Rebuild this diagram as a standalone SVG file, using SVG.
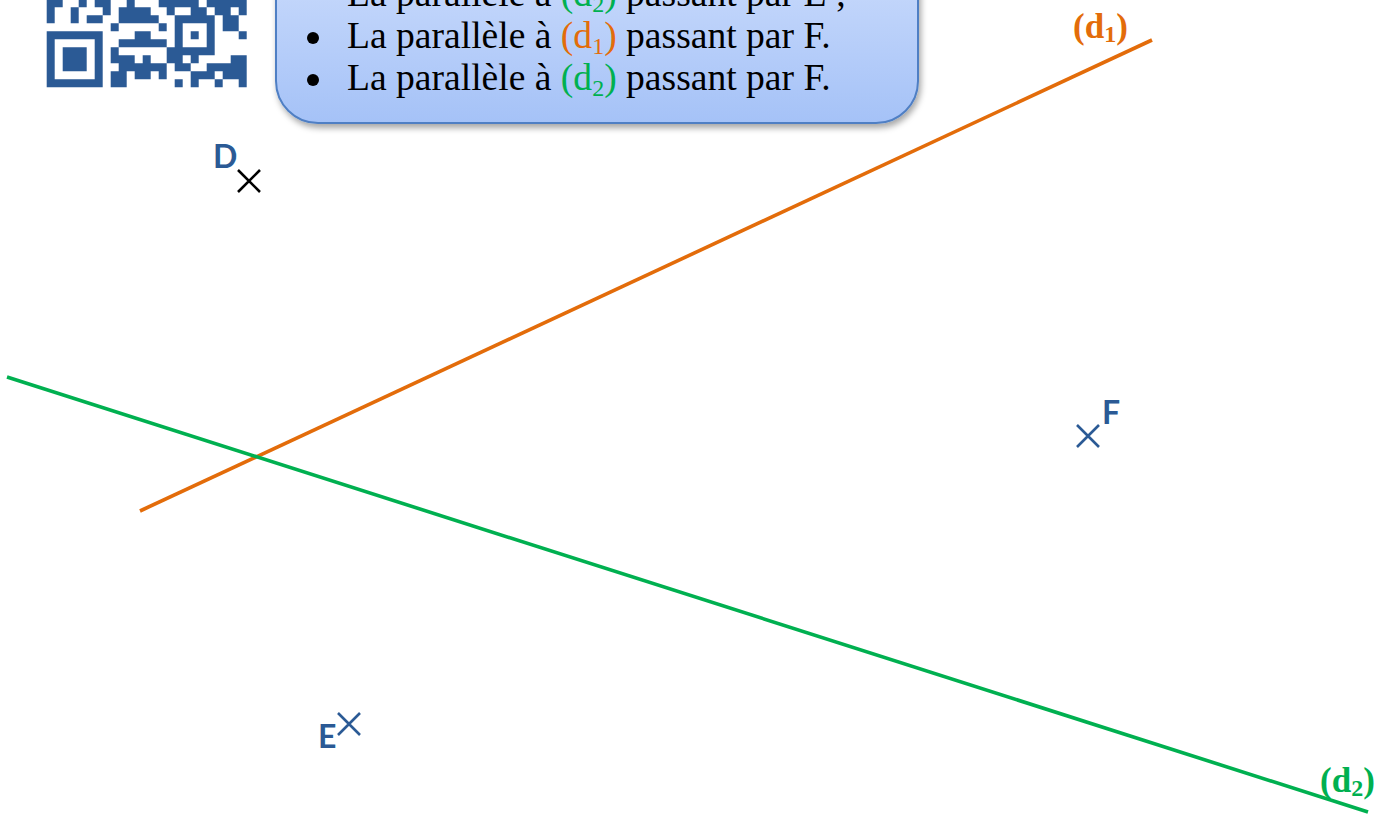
<svg xmlns="http://www.w3.org/2000/svg" width="1391" height="814" viewBox="0 0 1391 814">
<defs>
<linearGradient id="boxGrad" x1="0" y1="0" x2="0" y2="1">
<stop offset="0" stop-color="#d3e1fd"/>
<stop offset="1" stop-color="#a5c2f7"/>
</linearGradient>
<filter id="shadow" x="-10%" y="-10%" width="120%" height="130%">
<feDropShadow dx="2" dy="4" stdDeviation="3" flood-color="#000" flood-opacity="0.35"/>
</filter>
<g id="cross"><path d="M-11,-11 L11,11 M-11,11 L11,-11" fill="none" stroke-width="2.6"/></g>
</defs>
<style>
.txt{font-family:"Liberation Serif","Times New Roman",serif;font-size:37.6px;fill:#000}
.lbl{font-family:"Liberation Serif","Times New Roman",serif;font-size:35px;font-weight:bold}
.pt{font-family:Lato,"Open Sans",sans-serif;font-weight:bold;font-size:32px;fill:#2b5a95}
.sub{font-size:24px}
</style>
<rect width="1391" height="814" fill="#fff"/>

<g id="qr">
<path fill="#2b5a95" d="M46.7,-0.7h16v8h-16zM78.7,-0.7h8v8h-8zM94.7,-0.7h16v8h-16zM126.7,-0.7h8v8h-8zM158.7,-0.7h40v8h-40zM206.7,-0.7h40v8h-40z
M46.7,7.3h8v8h-8zM70.7,7.3h8v8h-8zM102.7,7.3h8v8h-8zM118.7,7.3h32v8h-32zM166.7,7.3h8v8h-8zM190.7,7.3h16v8h-16zM214.7,7.3h16v8h-16zM238.7,7.3h8v8h-8z
M46.7,15.3h8v8h-8zM70.7,15.3h8v8h-8zM86.7,15.3h16v8h-16zM118.7,15.3h40v8h-40zM174.7,15.3h40v8h-40zM222.7,15.3h16v8h-16z
M110.7,23.3h8v8h-8zM158.7,23.3h8v8h-8zM174.7,23.3h8v8h-8zM206.7,23.3h8v8h-8zM222.7,23.3h16v8h-16z
M134.7,31.3h16v8h-16zM174.7,31.3h8v8h-8zM190.7,31.3h8v8h-8zM206.7,31.3h8v8h-8zM238.7,31.3h8v8h-8z
M118.7,39.3h48v8h-48zM174.7,39.3h8v8h-8zM206.7,39.3h8v8h-8z
M110.7,47.3h8v8h-8zM166.7,47.3h48v8h-48z
M110.7,55.3h24v8h-24zM142.7,55.3h8v8h-8zM166.7,55.3h16v8h-16zM190.7,55.3h8v8h-8zM230.7,55.3h16v8h-16z
M118.7,63.3h48v8h-48zM174.7,63.3h16v8h-16zM206.7,63.3h40v8h-40z
M110.7,71.3h16v8h-16zM134.7,71.3h16v8h-16zM158.7,71.3h8v8h-8zM190.7,71.3h24v8h-24zM222.7,71.3h24v8h-24z
M110.7,79.3h16v8h-16zM174.7,79.3h8v8h-8zM190.7,79.3h8v8h-8zM214.7,79.3h8v8h-8zM238.7,79.3h8v8h-8z
M46.7,31.3h56v56h-56zM54.7,39.3v40h40v-40z M62.7,47.3h24v24h-24z"/>
</g>

<g id="callout">
<rect x="276" y="-80" width="642" height="203" rx="42" ry="42" fill="url(#boxGrad)" stroke="#4f7fc4" stroke-width="2" filter="url(#shadow)"/>
<text class="txt" x="347" y="6">La parallèle à <tspan fill="#00b050">(d<tspan class="sub" dy="6">2</tspan><tspan dy="-6">)</tspan></tspan> passant par E ;</text>
<circle cx="313" cy="38" r="6" fill="#000"/>
<text class="txt" x="347" y="48">La parallèle à <tspan fill="#e36c0a">(d<tspan class="sub" dy="6">1</tspan><tspan dy="-6">)</tspan></tspan> passant par F.</text>
<circle cx="313" cy="80" r="6" fill="#000"/>
<text class="txt" x="347" y="90">La parallèle à <tspan fill="#00b050">(d<tspan class="sub" dy="6">2</tspan><tspan dy="-6">)</tspan></tspan> passant par F.</text>
</g>

<g id="connectors">
<line id="d1" x1="140" y1="511" x2="1152" y2="40" stroke="#e36c0a" stroke-width="3.6"/>
<line id="d2" x1="7" y1="377" x2="1368" y2="812" stroke="#00b050" stroke-width="3.6"/>
</g>

<g id="label-d1"><text class="lbl" x="1073" y="38" fill="#e36c0a">(d<tspan class="sub" dy="4">1</tspan><tspan dy="-4">)</tspan></text></g>
<g id="label-d2"><text class="lbl" x="1320" y="792" fill="#00b050">(d<tspan class="sub" dy="4">2</tspan><tspan dy="-4">)</tspan></text></g>

<g id="point-D">
<use href="#cross" x="249" y="181" stroke="#000"/>
<text class="pt" x="213" y="168">D</text>
</g>
<g id="point-F">
<use href="#cross" x="1088" y="436" stroke="#2b5a95"/>
<text class="pt" x="1102" y="424">F</text>
</g>
<g id="point-E">
<use href="#cross" x="349" y="724" stroke="#2b5a95"/>
<text class="pt" x="318" y="748">E</text>
</g>
</svg>
